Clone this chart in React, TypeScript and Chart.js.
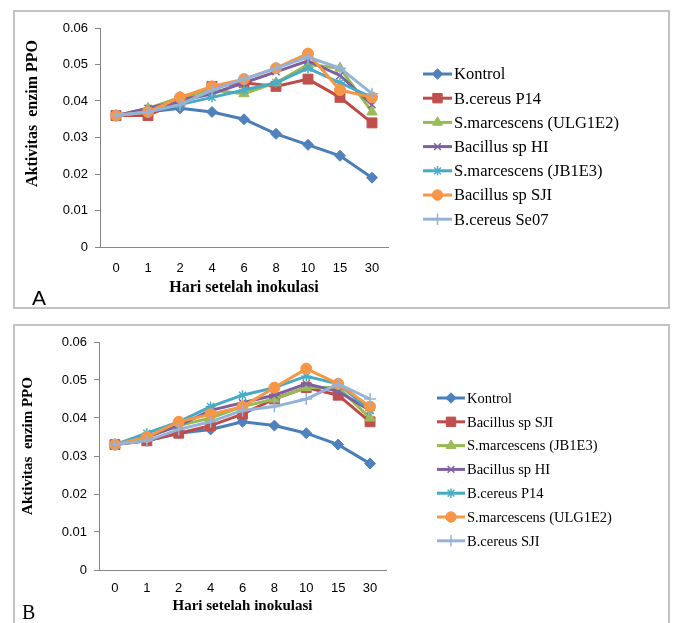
import React, { useEffect, useRef } from "react";
import { Chart, registerables, PointElement } from "chart.js";

Chart.register(...registerables);

// ---------- DATA ----------
const days = ["0", "1", "2", "4", "6", "8", "10", "15", "30"];

const namesA = [
  "Kontrol",
  "B.cereus P14",
  "S.marcescens (ULG1E2)",
  "Bacillus sp HI",
  "S.marcescens (JB1E3)",
  "Bacillus sp SJI",
  "B.cereus Se07",
];
const kontrolA = [0.036, 0.037, 0.038, 0.037, 0.035, 0.031, 0.028, 0.025, 0.019];
const cereusP14A = [0.036, 0.036, 0.040, 0.044, 0.045, 0.044, 0.046, 0.041, 0.034];
const marcescensUlgA = [0.036, 0.038, 0.041, 0.043, 0.042, 0.045, 0.050, 0.049, 0.037];
const bacillusHiA = [0.036, 0.038, 0.040, 0.042, 0.045, 0.048, 0.051, 0.047, 0.039];
const marcescensJbA = [0.036, 0.037, 0.039, 0.041, 0.043, 0.045, 0.049, 0.045, 0.041];
const bacillusSjiA = [0.036, 0.037, 0.041, 0.044, 0.046, 0.049, 0.053, 0.043, 0.041];
const cereusSe07A = [0.036, 0.037, 0.039, 0.043, 0.046, 0.049, 0.052, 0.049, 0.042];

const namesB = [
  "Kontrol",
  "Bacillus sp SJI",
  "S.marcescens (JB1E3)",
  "Bacillus sp HI",
  "B.cereus P14",
  "S.marcescens (ULG1E2)",
  "B.cereus SJI",
];
const kontrolB = [0.033, 0.034, 0.036, 0.037, 0.039, 0.038, 0.036, 0.033, 0.028];
const bacillusSjiB = [0.033, 0.034, 0.036, 0.038, 0.041, 0.045, 0.048, 0.046, 0.039];
const marcescensJbB = [0.033, 0.035, 0.038, 0.040, 0.043, 0.045, 0.048, 0.048, 0.040];
const bacillusHiB = [0.033, 0.035, 0.038, 0.042, 0.044, 0.046, 0.049, 0.047, 0.042];
const cereusP14B = [0.033, 0.036, 0.039, 0.043, 0.046, 0.048, 0.051, 0.049, 0.042];
const marcescensUlgB = [0.033, 0.035, 0.039, 0.041, 0.043, 0.048, 0.053, 0.049, 0.043];
const cereusSjiB = [0.033, 0.034, 0.037, 0.039, 0.042, 0.043, 0.045, 0.049, 0.045];

const yTickLabels = ["0", "0.01", "0.02", "0.03", "0.04", "0.05", "0.06"];

const yTitle = "Aktivitas  enzim PPO";
const xTitle = "Hari setelah inokulasi";

// ---------- STYLES ----------
const styles = [
  { line: "#4A7EBB", fill: "#4F81BD", point: "rectRot", r: 5.5, bw: 1 },
  { line: "#BE4B48", fill: "#C0504D", point: "rect", r: 7, bw: 1 },
  { line: "#98B954", fill: "#9BBB59", point: "triangle", r: 6, bw: 1 },
  { line: "#7D60A0", fill: "#8064A2", point: "crossRot", r: 5, bw: 1.5 },
  { line: "#46AAC5", fill: "#4BACC6", point: "star", r: 5, bw: 1.5 },
  { line: "#F79646", fill: "#F79646", point: "circle", r: 5.5, bw: 1 },
  { line: "#95B3D7", fill: "#95B3D7", point: "cross", r: 6, bw: 1.5 },
];

const AXIS = "#868686";

function makeDatasets(names: string[], series: number[][]) {
  return series.map((d, i) => ({
    label: names[i],
    data: d,
    borderColor: styles[i].line,
    backgroundColor: styles[i].fill,
    borderWidth: 3,
    pointStyle: styles[i].point,
    pointRadius: styles[i].r,
    pointBorderWidth: styles[i].bw,
    pointBorderColor: styles[i].fill,
    pointBackgroundColor: styles[i].fill,
    tension: 0,
    order: series.length - i,
  }));
}

const decorPlugin = {
  id: "decor",
  afterDraw(chart: any, _args: any, opts: any) {
    const ctx = chart.ctx;
    const area = chart.chartArea;
    ctx.save();
    // y title
    ctx.fillStyle = "#000";
    ctx.font = `bold ${opts.yTitleSize}px "Liberation Serif"`;
    ctx.textAlign = "center";
    ctx.textBaseline = "middle";
    ctx.translate(opts.yTitleX, (area.top + area.bottom) / 2 + opts.yTitleShift);
    ctx.rotate(-Math.PI / 2);
    ctx.fillText(yTitle, 0, 0);
    ctx.restore();

    // legend
    ctx.save();
    const big = { left: -1e5, top: -1e5, right: 1e5, bottom: 1e5 };
    chart.data.datasets.forEach((ds: any, i: number) => {
      const y = opts.legY + i * opts.legStep;
      ctx.strokeStyle = ds.borderColor;
      ctx.lineWidth = 3;
      ctx.beginPath();
      ctx.moveTo(opts.legX0, y);
      ctx.lineTo(opts.legX1, y);
      ctx.stroke();
      const pt: any = new (PointElement as any)({
        x: (opts.legX0 + opts.legX1) / 2,
        y,
        options: {
          pointStyle: ds.pointStyle,
          radius: ds.pointRadius * 0.95,
          rotation: 0,
          borderWidth: ds.pointBorderWidth,
          borderColor: ds.pointBorderColor,
          backgroundColor: ds.pointBackgroundColor,
        },
      });
      pt.draw(ctx, big);
      ctx.fillStyle = "#000";
      ctx.font = `${opts.legFont}px "Liberation Serif"`;
      ctx.textAlign = "left";
      ctx.textBaseline = "middle";
      ctx.fillText(ds.label, opts.legX1 + 2, y + 1);
    });
    // panel letter
    ctx.fillStyle = "#000";
    ctx.font = opts.letterFont;
    ctx.textAlign = "left";
    ctx.textBaseline = "alphabetic";
    ctx.fillText(opts.letter, opts.letterX, opts.letterY);
    ctx.restore();
  },
};

function PanelChart(props: {
  top: number;
  height: number;
  names: string[];
  series: number[][];
  cfg: any;
}) {
  const ref = useRef<HTMLCanvasElement | null>(null);
  const { cfg } = props;
  useEffect(() => {
    if (!ref.current) return;
    const chart = new Chart(ref.current, {
      type: "line",
      data: { labels: days, datasets: makeDatasets(props.names, props.series) as any },
      options: {
        animation: false,
        responsive: false,
        maintainAspectRatio: false,
        layout: { padding: { left: 0, top: cfg.padTop, right: cfg.padRight, bottom: 0 } },
        plugins: {
          legend: { display: false },
          tooltip: { enabled: false },
          decor: cfg.decor,
        } as any,
        scales: {
          x: {
            type: "category",
            offset: true,
            grid: { display: false },
            border: { display: true, color: AXIS, width: 1 },
            ticks: {
              color: "#000",
              font: { family: "Liberation Sans", size: 13 },
              padding: cfg.xTickPad,
              maxRotation: 0,
              autoSkip: false,
            },
            title: {
              display: true,
              text: xTitle,
              color: "#000",
              font: { family: "Liberation Serif", size: cfg.xTitleSize, weight: "bold" },
              padding: { top: 0, bottom: cfg.xTitlePadBottom },
            },
            afterFit: (s: any) => {
              s.height = cfg.xHeight;
            },
          },
          y: {
            min: 0,
            max: 0.06,
            grid: { display: true, drawOnChartArea: false, drawTicks: true, tickLength: 5, color: AXIS },
            border: { display: true, color: AXIS, width: 1 },
            ticks: {
              stepSize: 0.01,
              color: "#000",
              font: { family: "Liberation Sans", size: 13 },
              padding: 7,
              callback: (_v: any, idx: number) => yTickLabels[idx],
            },
            afterFit: (s: any) => {
              s.width = cfg.yWidth;
            },
          },
        },
      },
      plugins: [decorPlugin as any],
    });
    return () => chart.destroy();
  }, []);
  return (
    <canvas
      ref={ref}
      width={674}
      height={props.height}
      style={{ position: "absolute", left: 0, top: props.top, width: 674, height: props.height }}
    />
  );
}

const cfgA = {
  padTop: 28,
  padRight: 286,
  yWidth: 100,
  xHeight: 69,
  xTickPad: 6,
  xTitleSize: 16,
  xTitlePadBottom: 19,
  decor: {
    yTitleSize: 16,
    yTitleX: 33,
    yTitleShift: -24,
    legX0: 423,
    legX1: 452,
    legY: 74,
    legStep: 24.2,
    legFont: 16.5,
    letter: "A",
    letterFont: '21px "Liberation Sans"',
    letterX: 32,
    letterY: 305,
  },
};

const cfgB = {
  padTop: 26,
  padRight: 288,
  yWidth: 99,
  xHeight: 53,
  xTickPad: 3,
  xTitleSize: 15,
  xTitlePadBottom: 8,
  decor: {
    yTitleSize: 15,
    yTitleX: 28,
    yTitleShift: -10,
    legX0: 437,
    legX1: 465,
    legY: 82,
    legStep: 23.8,
    legFont: 14.5,
    letter: "B",
    letterFont: '20px "Liberation Serif"',
    letterX: 22,
    letterY: 303,
  },
};

export default function App() {
  const seriesA = [kontrolA, cereusP14A, marcescensUlgA, bacillusHiA, marcescensJbA, bacillusSjiA, cereusSe07A];
  const seriesB = [kontrolB, bacillusSjiB, marcescensJbB, bacillusHiB, cereusP14B, marcescensUlgB, cereusSjiB];
  const box: React.CSSProperties = {
    position: "absolute",
    left: 13,
    width: 657,
    border: "2px solid #c2c2c2",
    boxSizing: "border-box",
  };
  return (
    <div
      style={{
        position: "fixed",
        left: 0,
        top: 0,
        width: 674,
        height: 623,
        overflow: "hidden",
        background: "#fff",
      }}
    >
      <div style={{ ...box, top: 10, height: 299 }} />
      <div style={{ ...box, top: 324, height: 310 }} />
      <PanelChart top={0} height={316} names={namesA} series={seriesA} cfg={cfgA} />
      <PanelChart top={316} height={307} names={namesB} series={seriesB} cfg={cfgB} />
    </div>
  );
}
